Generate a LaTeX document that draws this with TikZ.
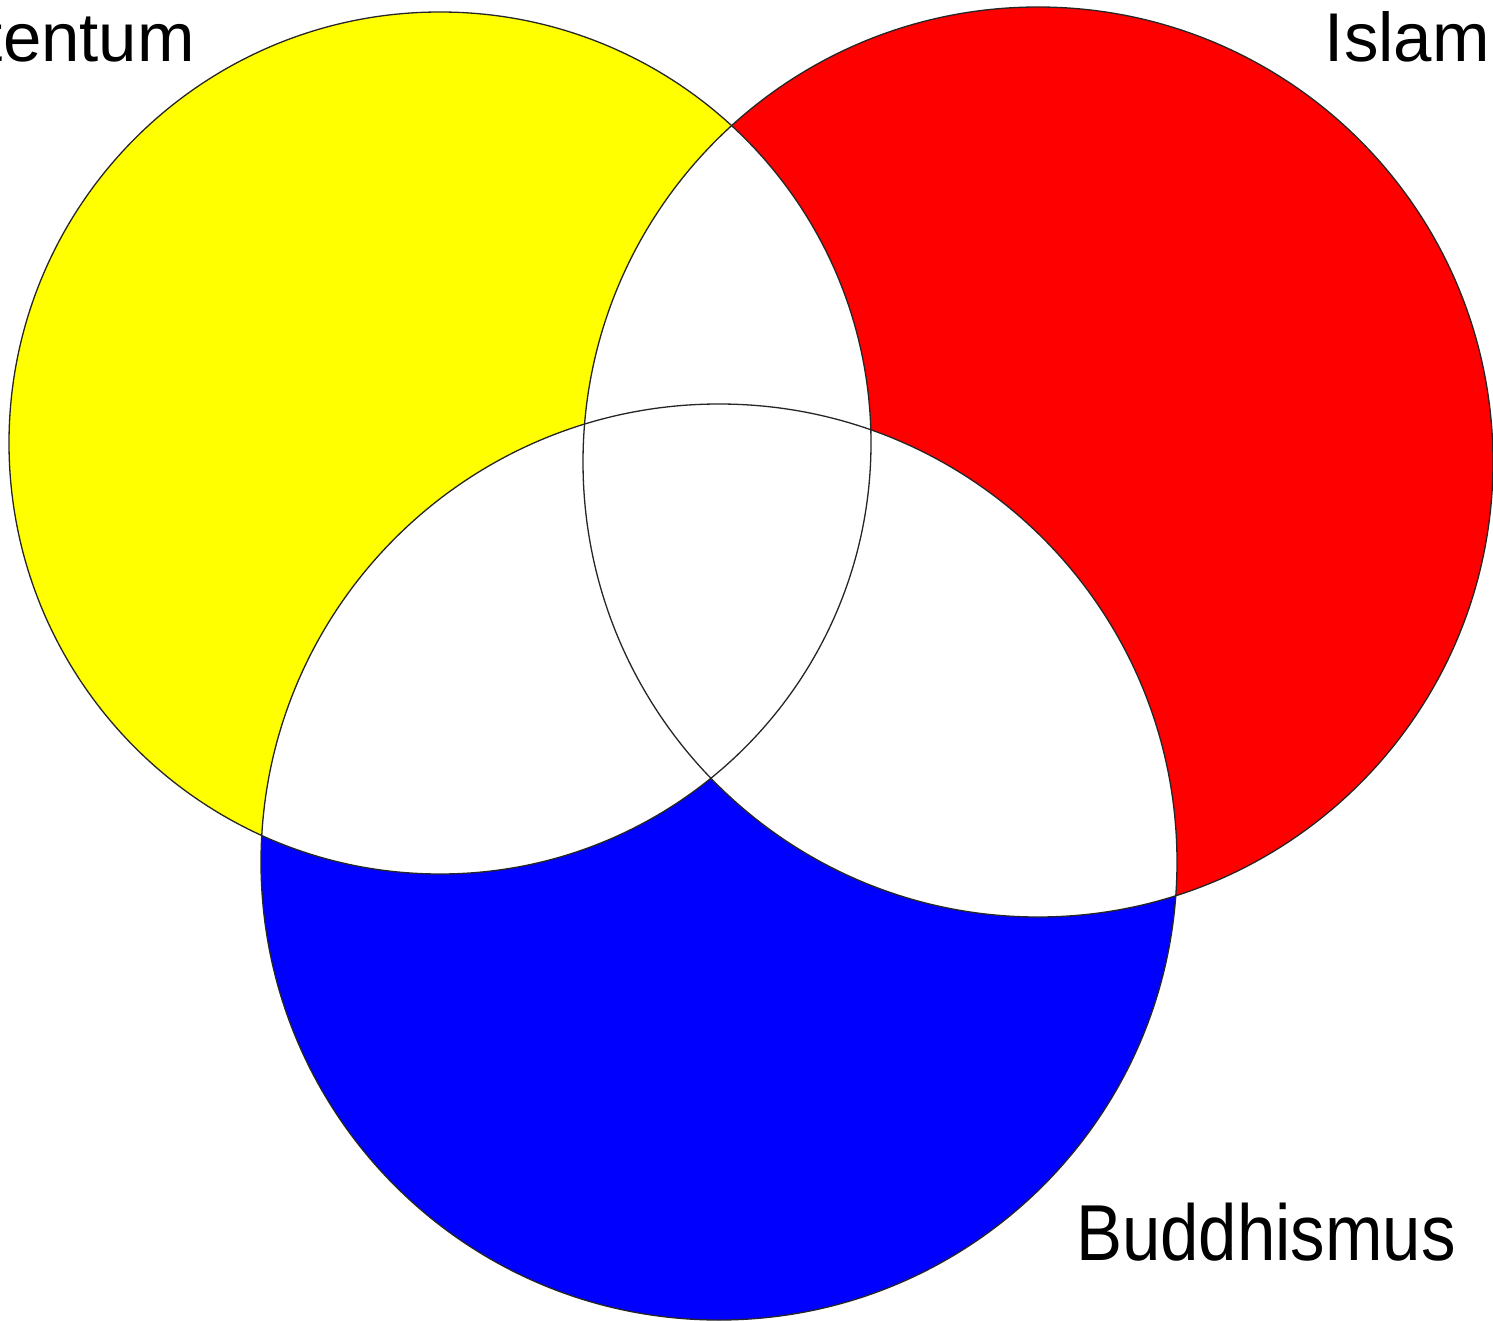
\documentclass[tikz,border=0pt]{standalone}
\usepackage{fontspec}
\setmainfont{Liberation Sans}
\definecolor{vy}{RGB}{255,255,0}
\definecolor{vr}{RGB}{255,0,0}
\definecolor{vb}{RGB}{0,0,255}
\begin{document}
\begin{tikzpicture}[x=1pt,y=-1pt,
  ring/.style={draw=black!85, line width=1.3pt},
  lbl/.style={font=\fontsize{69}{80}\selectfont, inner sep=0pt}]
\useasboundingbox (0,0) rectangle (1493,1321);
\fill[white] (0,0) rectangle (1493,1321);
\clip (0,0) rectangle (1493,1321);
\coordinate (cy) at (440,443);
\coordinate (cr) at (1038,462);
\coordinate (cb) at (719,862);
\fill[vy] (cy) circle (431pt);
\fill[vr] (cr) circle (455pt);
\fill[vb] (cb) circle (458pt);
\begin{scope}
  \clip (cy) circle (431pt);
  \fill[white] (cr) circle (455pt);
  \fill[white] (cb) circle (458pt);
\end{scope}
\begin{scope}
  \clip (cr) circle (455pt);
  \fill[white] (cb) circle (458pt);
\end{scope}
\draw[ring] (cy) circle (431pt);
\draw[ring] (cr) circle (455pt);
\draw[ring] (cb) circle (458pt);
\node[lbl, anchor=base east] (christ) at (195,62) {Christentum};
\node[lbl, anchor=base east] (islam) at (1490,62) {Islam};
\node[lbl, anchor=base east] (budd) at (1456,1260) {\scalebox{1}[1.15]{Buddhismus}};
\end{tikzpicture}
\end{document}
